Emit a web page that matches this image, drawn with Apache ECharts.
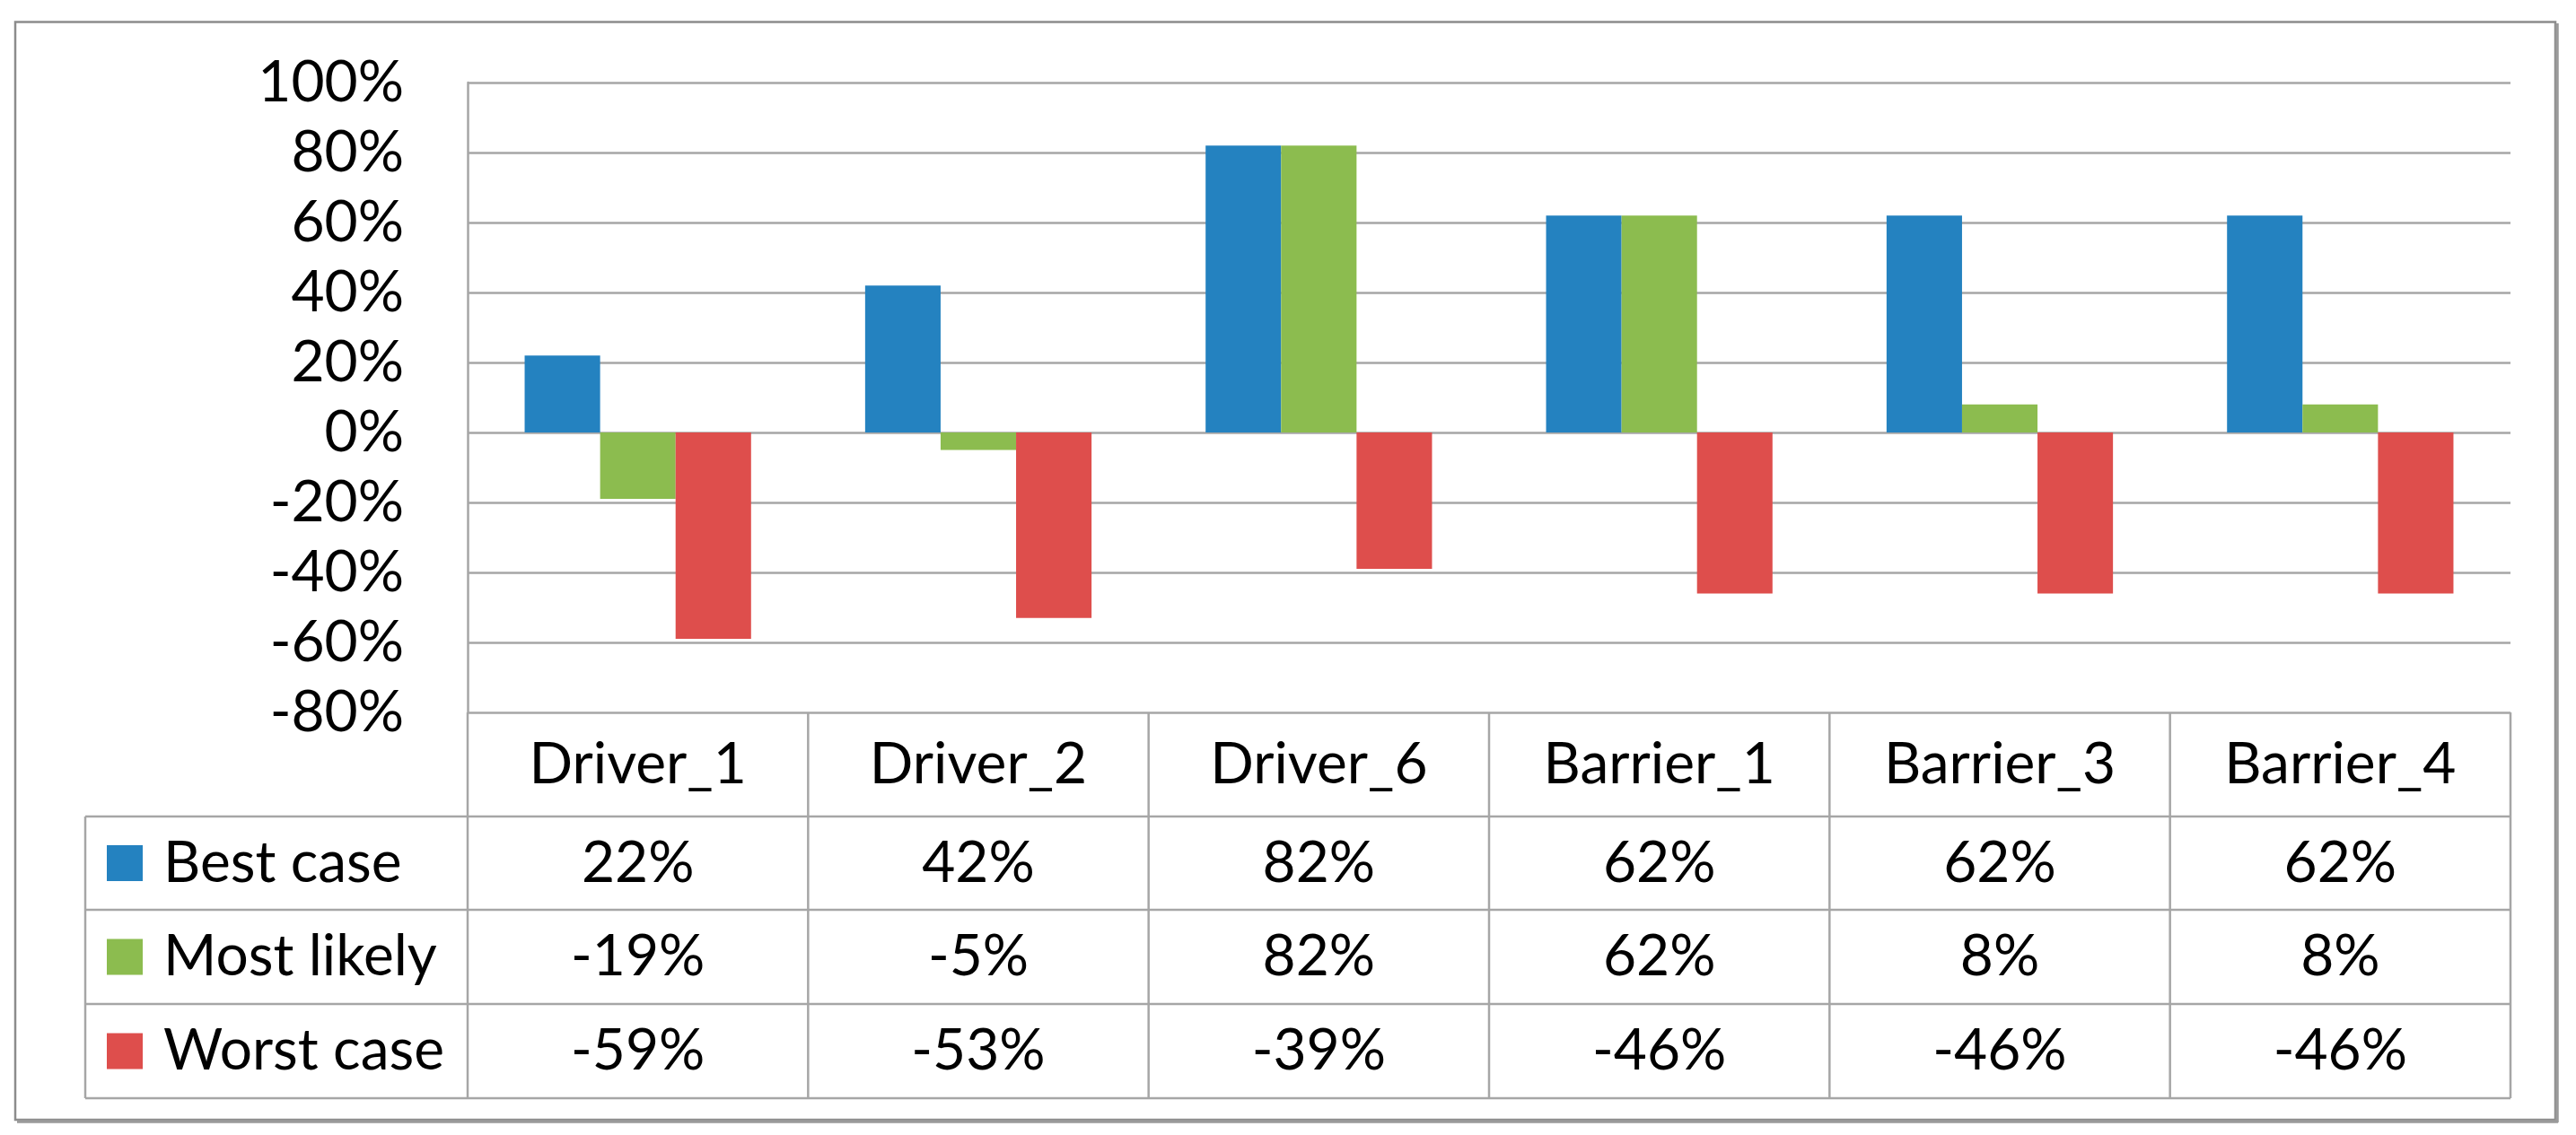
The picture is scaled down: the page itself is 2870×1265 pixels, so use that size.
<!DOCTYPE html>
<html><head><meta charset="utf-8">
<script src="https://cdn.jsdelivr.net/npm/echarts/dist/echarts.min.js"></script>
<style>html,body{margin:0;padding:0;background:#fff}#c{width:2870px;height:1265px}</style>
</head><body><div id="c"></div>
<script>
// ---- data ----
const categories = ['Driver_1', 'Driver_2', 'Driver_6', 'Barrier_1', 'Barrier_3', 'Barrier_4'];
const seriesNames = ['Best case', 'Most likely', 'Worst case'];
const bestCase = [22, 42, 82, 62, 62, 62];
const mostLikely = [-19, -5, 82, 62, 8, 8];
const worstCase = [-59, -53, -39, -46, -46, -46];
const yMin = -80, yMax = 100, yStep = 20;

// ---- style/layout ----
const colors = ['#2482C0', '#8CBC4F', '#DE4E4C'];
const FONT = 'Lato';
const FS = 64;
const lineColor = '#a6a6a6';
const LW = 2.5;
const G = { left: 521, top: 92, width: 2276, height: 702 };
const gridBottom = G.top + G.height;              // 794
const rowBounds = [gridBottom, 910, 1014, 1119, 1224];
const legendLeft = 95;
const right = G.left + G.width;
const allSeries = [bestCase, mostLikely, worstCase];

const chart = echarts.init(document.getElementById('c'), null, { renderer: 'canvas' });

const xAxes = [{
  type: 'category', data: categories, gridIndex: 0, position: 'bottom',
  axisLine: { show: false, onZero: false }, axisTick: { show: false },
  axisLabel: { interval: 0, fontFamily: FONT, fontSize: FS, color: '#000', verticalAlign: 'middle',
    margin: (rowBounds[0] + rowBounds[1]) / 2 - gridBottom }
}];
allSeries.forEach((vals, s) => {
  const center = (rowBounds[s + 1] + rowBounds[s + 2]) / 2;
  xAxes.push({
    type: 'category', data: categories, gridIndex: 0, position: 'bottom',
    offset: center - gridBottom,
    axisLine: { show: false, onZero: false }, axisTick: { show: false },
    axisLabel: { interval: 0, margin: 0, fontFamily: FONT, fontSize: FS, color: '#000', verticalAlign: 'middle',
      formatter: (v, i) => vals[i] + '%' }
  });
});

const graphics = [];
const L = (x1, y1, x2, y2, w, c) => graphics.push({ type: 'line', silent: true,
  shape: { x1, y1, x2, y2 }, style: { stroke: c || lineColor, lineWidth: w || LW } });

// table horizontal lines
for (let i = 1; i < rowBounds.length; i++) L(legendLeft, rowBounds[i], right, rowBounds[i]);
// verticals
L(legendLeft, rowBounds[1], legendLeft, rowBounds[4]);
L(G.left, gridBottom, G.left, rowBounds[4]);
for (let k = 1; k <= categories.length; k++) {
  const x = G.left + G.width * k / categories.length;
  L(x, rowBounds[0], x, rowBounds[4]);
}
// legend keys
seriesNames.forEach((n, s) => {
  const cy = (rowBounds[s + 1] + rowBounds[s + 2]) / 2;
  graphics.push({ type: 'rect', silent: true, shape: { x: 119, y: cy - 20, width: 40, height: 40 },
    style: { fill: colors[s] } });
  graphics.push({ type: 'text', silent: true, x: 182, y: cy,
    style: { text: n, fontFamily: FONT, fontSize: FS, fill: '#000', verticalAlign: 'middle', align: 'left' } });
});
// outer frame
graphics.push({ type: 'rect', silent: true, shape: { x: 17, y: 24.5, width: 2830, height: 1223.5 },
  style: { fill: 'none', stroke: '#8c8c8c', lineWidth: 2.5 } });
L(2849, 26, 2849, 1251, 3.5, '#9a9a9a');
L(19, 1250, 2850, 1250, 3.5, '#9a9a9a');

chart.setOption({
  animation: false,
  backgroundColor: '#fff',
  grid: { left: G.left, top: G.top, width: G.width, height: G.height, containLabel: false },
  xAxis: xAxes,
  yAxis: {
    type: 'value', min: yMin, max: yMax, interval: yStep,
    axisLine: { show: true, lineStyle: { color: lineColor, width: LW } },
    axisTick: { show: false },
    splitLine: { show: true, lineStyle: { color: lineColor, width: LW } },
    axisLabel: { formatter: '{value}%', fontFamily: FONT, fontSize: FS, color: '#000', margin: 71 }
  },
  series: allSeries.map((vals, s) => ({
    name: seriesNames[s], type: 'bar', data: vals, xAxisIndex: 0,
    barGap: '0%', barCategoryGap: '33.5%',
    itemStyle: { color: colors[s] }
  })),
  graphic: graphics
});
</script></body></html>
